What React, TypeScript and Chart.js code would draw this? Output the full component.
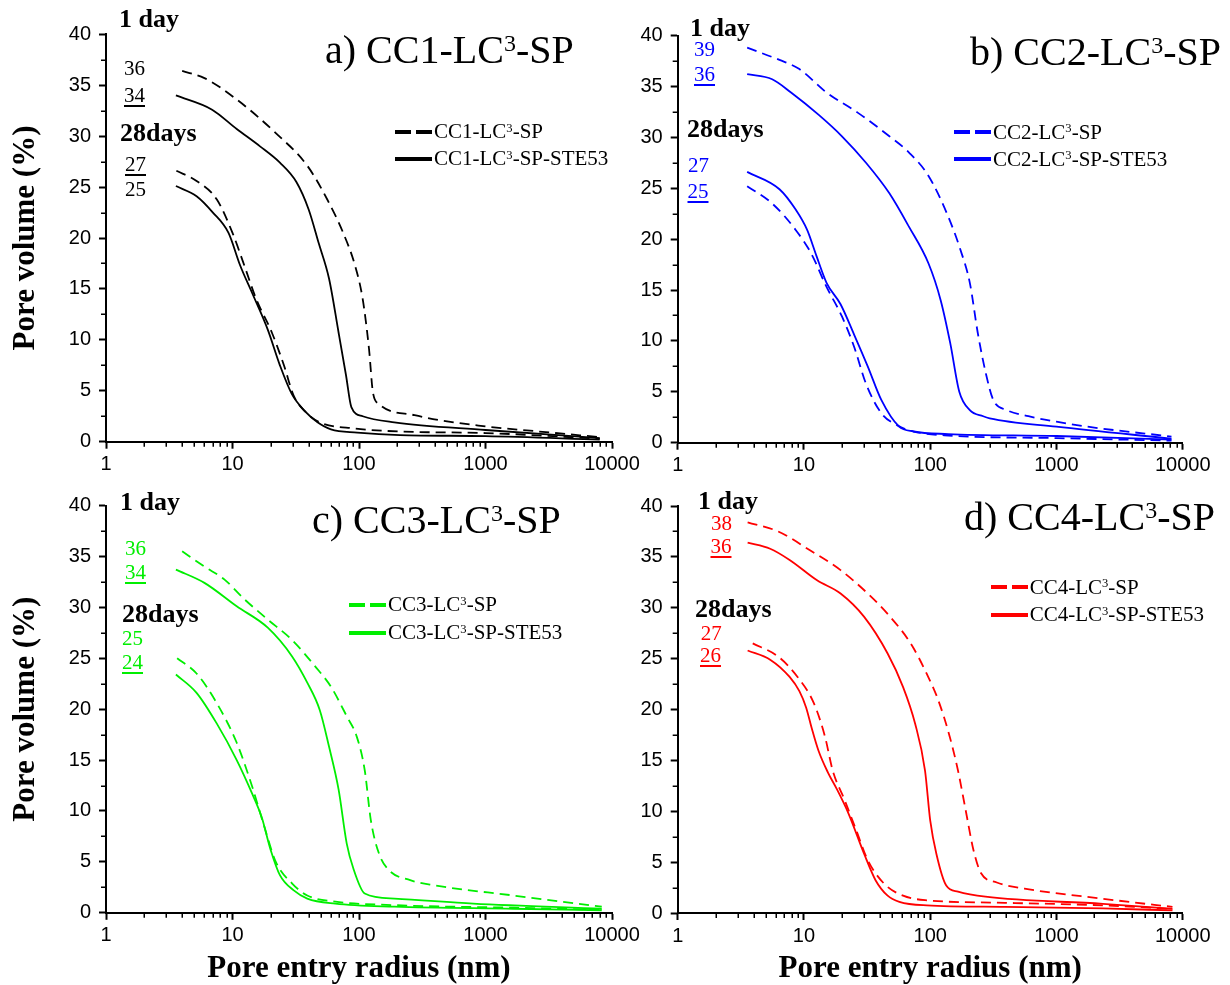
import React, { useEffect, useRef } from 'react';
import { Chart, registerables } from 'chart.js';

Chart.register(...registerables);

type Pt = [number, number];

// ---------- data: [pore entry radius (nm), pore volume (%)] ----------
// a) CC1
const a1dSP: Pt[] = [[4.0, 36.4], [6.0, 35.7], [10.8, 33.6], [22, 30.3], [39, 27.1], [56, 23.8], [75, 20.5], [93, 17.3], [107, 14], [120, 9.1], [129, 4.8], [144, 3.7], [275, 2.6], [1000, 1.5], [2400, 1.05], [8000, 0.45]];
const a1dSTE: Pt[] = [[3.57, 34.0], [6.9, 32.6], [10.8, 30.7], [16.5, 29.0], [23.7, 27.4], [32, 25.5], [40, 22.8], [48, 19.5], [58, 16.0], [69, 10.7], [79, 6.5], [87, 3.4], [107, 2.5], [190, 1.9], [1000, 1.15], [8000, 0.35]];
const a28SP: Pt[] = [[3.6, 26.6], [5.2, 25.6], [7.5, 23.8], [10, 20.5], [12.4, 17.3], [15.4, 14], [20.5, 10.7], [25.5, 7.5], [30.5, 4.5], [38, 2.9], [49, 1.9], [93, 1.3], [210, 1.0], [1000, 0.85], [8000, 0.3]];
const a28STE: Pt[] = [[3.57, 25.1], [5.2, 24.1], [7, 22.5], [9.3, 20.5], [11.5, 17.3], [14.3, 14.6], [19, 11], [23.7, 7.5], [29.4, 4.7], [38, 2.9], [47, 1.9], [60, 1.2], [97, 0.9], [210, 0.65], [1000, 0.55], [8000, 0.2]];
// b) CC2
const b1dSP: Pt[] = [[3.55, 38.8], [6.4, 37.6], [9.2, 36.7], [15.1, 34.4], [26.8, 32.4], [47.5, 30.1], [68, 28.5], [97, 26.2], [139, 22.2], [173, 19.0], [206, 15.7], [238, 10.8], [276, 6.8], [316, 4.2], [406, 3.2], [600, 2.6], [1000, 2.06], [1700, 1.6], [8150, 0.6]];
const b1dSTE: Pt[] = [[3.55, 36.2], [5.6, 35.7], [7.9, 34.4], [13.1, 32.2], [20, 30.1], [31, 27.5], [47.5, 24.5], [68, 21.2], [97, 17.6], [121, 14], [144, 9.8], [170, 5.0], [206, 3.2], [263, 2.6], [296, 2.4], [1000, 1.57], [8150, 0.4]];
const b28SP: Pt[] = [[3.55, 25.2], [5.6, 23.5], [8.6, 20.9], [11.4, 18.6], [15.1, 15.3], [20, 12.4], [25, 9.4], [31, 5.8], [41, 2.9], [55, 1.7], [74, 1.1], [139, 0.7], [1000, 0.45], [8150, 0.2]];
const b28STE: Pt[] = [[3.55, 26.6], [6.4, 24.9], [8.6, 22.9], [10.6, 20.9], [12.6, 18.3], [15.1, 15.7], [19.5, 13.6], [25, 10.6], [32, 7.5], [41, 4.2], [56.5, 1.6], [74, 1.1], [139, 0.85], [1000, 0.66], [8150, 0.3]];
// c) CC3
const c1dSP: Pt[] = [[4.0, 35.5], [6.0, 34.0], [8.7, 32.7], [12.4, 30.8], [19, 28.8], [29.5, 26.8], [45, 24.2], [60, 22.2], [80, 19.3], [96, 17.3], [111, 14], [124, 9.1], [144, 5.8], [172, 4.2], [254, 3.2], [393, 2.7], [1660, 1.7], [8300, 0.6]];
const c1dSTE: Pt[] = [[3.57, 33.7], [6, 32.4], [10.8, 30.1], [19, 28.0], [29.5, 25.2], [39, 22.6], [49, 19.9], [58, 16.3], [69, 12.1], [80, 6.8], [90, 4.4], [111, 1.9], [191, 1.4], [800, 0.9], [8300, 0.4]];
const c28SP: Pt[] = [[3.65, 25.0], [5.2, 23.5], [7.5, 20.6], [10.8, 16.7], [14.3, 12.4], [17.8, 8.5], [22, 5.0], [29.5, 2.9], [39, 1.7], [65, 1.1], [191, 0.75], [1660, 0.5], [8300, 0.3]];
const c28STE: Pt[] = [[3.57, 23.4], [5.2, 21.6], [7.5, 18.6], [10.8, 15.0], [14.3, 11.7], [17, 9.4], [20, 6.2], [23.7, 3.7], [30.5, 2.2], [39, 1.4], [65, 0.9], [191, 0.6], [1660, 0.4], [8300, 0.25]];
// d) CC4
const d1dSP: Pt[] = [[3.58, 38.4], [6.25, 37.5], [11, 35.7], [19.5, 33.7], [32, 31.4], [46, 29.4], [70, 26.5], [94, 23.5], [116, 20.9], [143, 17.3], [166, 14], [191, 10.1], [220, 6.2], [253, 3.9], [337, 3.0], [558, 2.4], [2330, 1.4], [8300, 0.6]];
const d1dSTE: Pt[] = [[3.58, 36.4], [5.4, 35.8], [7.7, 34.7], [12.7, 32.7], [19.5, 31.4], [30, 29.1], [46, 25.5], [61, 22.2], [76, 18.6], [91, 14], [100, 9.1], [112, 5.8], [134, 2.7], [166, 2.1], [274, 1.6], [2330, 0.9], [8300, 0.4]];
const d28SP: Pt[] = [[3.93, 26.5], [6.25, 25.2], [8.9, 23.2], [12, 20.6], [14.7, 17.3], [16.9, 14], [21, 11.1], [26, 8.1], [32, 5.2], [43, 2.9], [61, 1.7], [94, 1.25], [390, 1.0], [2330, 0.75], [8300, 0.4]];
const d28STE: Pt[] = [[3.58, 25.8], [5.4, 24.9], [7.7, 23.2], [9.2, 21.8], [10.4, 20.2], [11.5, 18.2], [13, 16.0], [15.5, 13.8], [18, 12.3], [22.5, 9.8], [30, 5.8], [37, 3.2], [46, 1.7], [57, 1.1], [94, 0.75], [390, 0.6], [2330, 0.45], [8300, 0.25]];

const X_TICKS = [1, 10, 100, 1000, 10000];
const Y_MIN = 0;
const Y_MAX = 40;
const Y_STEP = 5;
const X_TITLE = 'Pore entry radius (nm)';
const Y_TITLE = 'Pore volume (%)';

const W = 1230;
const H = 985;
const SERIF = '"Liberation Serif", "Times New Roman", Times, serif';
const SANS = '"Liberation Sans", Arial, Helvetica, sans-serif';

const minorTicks = {
  id: 'minorTicks',
  afterDraw(chart: any) {
    const { ctx, chartArea } = chart;
    const xs = chart.scales.x;
    const ys = chart.scales.y;
    ctx.save();
    ctx.strokeStyle = '#000';
    ctx.lineWidth = 1.5;
    ctx.beginPath();
    for (let k = 0; k < 4; k++) {
      for (let m = 2; m <= 9; m++) {
        const px = Math.round(xs.getPixelForValue(m * Math.pow(10, k))) + 0.25;
        ctx.moveTo(px, chartArea.bottom);
        ctx.lineTo(px, chartArea.bottom + 5);
      }
    }
    for (let v = Y_MIN + Y_STEP / 2; v < Y_MAX; v += Y_STEP) {
      const py = Math.round(ys.getPixelForValue(v)) + 0.25;
      ctx.moveTo(chartArea.left - 5, py);
      ctx.lineTo(chartArea.left, py);
    }
    ctx.stroke();
    ctx.restore();
  },
};

interface Series { data: Pt[]; dashed: boolean }
interface Area { left: number; right: number; top: number; bottom: number }
interface PanelProps { color: string; series: Series[]; area: Area; yTitle: boolean; xTitle: boolean }

function Panel({ color, series, area, yTitle, xTitle }: PanelProps) {
  const ref = useRef<HTMLCanvasElement | null>(null);
  useEffect(() => {
    if (!ref.current) return;
    const yW = yTitle ? area.left - 10.5 : 60;
    const padL = area.left - yW;
    const xH = xTitle ? 983 - area.bottom : 40;
    const padB = H - area.bottom - xH;
    const chart = new Chart(ref.current, {
      type: 'line',
      data: {
        datasets: series.map((s) => ({
          data: s.data.map(([x, y]) => ({ x, y })),
          borderColor: color,
          borderWidth: 1.8,
          borderDash: s.dashed ? [10, 6] : [],
          pointRadius: 0,
          fill: false,
          cubicInterpolationMode: 'monotone' as const,
        })),
      },
      options: {
        responsive: false,
        animation: false,
        layout: { padding: { left: padL, right: W - area.right, top: area.top, bottom: padB } },
        plugins: { legend: { display: false }, tooltip: { enabled: false } },
        scales: {
          x: {
            type: 'logarithmic',
            min: X_TICKS[0],
            max: X_TICKS[X_TICKS.length - 1],
            afterBuildTicks: (s: any) => { s.ticks = X_TICKS.map((v) => ({ value: v })); },
            afterFit: (s: any) => { s.height = xH; },
            ticks: {
              autoSkip: false, maxRotation: 0, minRotation: 0, padding: 4, color: '#000',
              font: { family: SANS, size: 20 },
              callback: (v: any) => String(v),
            },
            grid: { display: true, drawOnChartArea: false, drawTicks: true, tickLength: 7, tickWidth: 2, tickColor: '#000' },
            border: { display: true, color: '#000', width: 2 },
            title: { display: xTitle, text: X_TITLE, color: '#000', padding: 0, font: { family: SERIF, size: 31, weight: 'bold', lineHeight: 0.9 } },
          },
          y: {
            type: 'linear',
            min: Y_MIN,
            max: Y_MAX,
            afterFit: (s: any) => { s.width = yW; },
            ticks: { stepSize: Y_STEP, padding: 8, color: '#000', font: { family: SANS, size: 20 } },
            grid: { display: true, drawOnChartArea: false, drawTicks: true, tickLength: 7, tickWidth: 2, tickColor: '#000' },
            border: { display: true, color: '#000', width: 2 },
            title: { display: yTitle, text: Y_TITLE, color: '#000', padding: 0, font: { family: SERIF, size: 31, weight: 'bold', lineHeight: 1 } },
          },
        },
      } as any,
      plugins: [minorTicks],
    });
    return () => chart.destroy();
  }, []);
  return <canvas ref={ref} width={W} height={H} style={{ position: 'absolute', left: 0, top: 0, width: W, height: H }} />;
}

// text placed by left x and baseline y
function Txt({ x, y, size, bold, color, underline, children }: any) {
  return (
    <div
      style={{
        position: 'absolute', left: x, top: y - 0.8375 * size, fontFamily: SERIF, fontSize: size, lineHeight: 1,
        fontWeight: bold ? 700 : 400, color: color || '#000', whiteSpace: 'nowrap',
        textDecoration: underline ? 'underline' : 'none', textDecorationThickness: '2px', textUnderlineOffset: '3px',
      }}
    >
      {children}
    </div>
  );
}

function Sup({ children }: any) {
  return <span style={{ fontSize: '0.6em', position: 'relative', top: '-0.5em' }}>{children}</span>;
}

function Name({ cc, ste }: { cc: string; ste?: boolean }) {
  return <>{cc}-LC<Sup>3</Sup>-SP{ste ? '-STE53' : ''}</>;
}

function LegendRows({ x, y1, y2, color, cc }: any) {
  const seg = (l: number, w: number, y: number) => (
    <div style={{ position: 'absolute', left: l, top: y - 2, width: w, height: 4, background: color }} />
  );
  return (
    <>
      {seg(x, 16, y1)}
      {seg(x + 21, 16, y1)}
      {seg(x, 37, y2)}
      <Txt x={x + 39} y={y1 + 7} size={21} color="#000"><Name cc={cc} /></Txt>
      <Txt x={x + 39} y={y2 + 7} size={21} color="#000"><Name cc={cc} ste /></Txt>
    </>
  );
}

export default function App() {
  const K = '#000000';
  const B = '#0000ff';
  const G = '#00ee00';
  const R = '#ff0000';
  return (
    <div style={{ position: 'fixed', left: 0, top: 0, width: W, height: H, overflow: 'hidden', background: '#fff' }}>
      <Panel color={K} yTitle xTitle={false} area={{ left: 106, right: 612, top: 34.3, bottom: 441.7 }}
        series={[{ data: a1dSP, dashed: true }, { data: a1dSTE, dashed: false }, { data: a28SP, dashed: true }, { data: a28STE, dashed: false }]} />
      <Panel color={B} yTitle={false} xTitle={false} area={{ left: 677.7, right: 1182.7, top: 35.5, bottom: 442.7 }}
        series={[{ data: b1dSP, dashed: true }, { data: b1dSTE, dashed: false }, { data: b28SP, dashed: true }, { data: b28STE, dashed: false }]} />
      <Panel color={G} yTitle xTitle area={{ left: 106, right: 612, top: 505.5, bottom: 912.8 }}
        series={[{ data: c1dSP, dashed: true }, { data: c1dSTE, dashed: false }, { data: c28SP, dashed: true }, { data: c28STE, dashed: false }]} />
      <Panel color={R} yTitle={false} xTitle area={{ left: 677.7, right: 1182.7, top: 506, bottom: 913 }}
        series={[{ data: d1dSP, dashed: true }, { data: d1dSTE, dashed: false }, { data: d28SP, dashed: true }, { data: d28STE, dashed: false }]} />

      {/* panel a */}
      <Txt x={325} y={63.3} size={40}>a) <Name cc="CC1" /></Txt>
      <Txt x={119} y={28} size={26} bold>1 day</Txt>
      <Txt x={124} y={75.5} size={21} color={K}>36</Txt>
      <Txt x={124} y={103} size={21} color={K} underline>34</Txt>
      <Txt x={120} y={142} size={26} bold>28days</Txt>
      <Txt x={125} y={172} size={21} color={K} underline>27</Txt>
      <Txt x={125} y={197} size={21} color={K}>25</Txt>
      <LegendRows x={395} y1={132} y2={159} color={K} cc="CC1" />

      {/* panel b */}
      <Txt x={970} y={65} size={40}>b) <Name cc="CC2" /></Txt>
      <Txt x={690} y={36.7} size={26} bold>1 day</Txt>
      <Txt x={694} y={56.7} size={21} color={B}>39</Txt>
      <Txt x={694} y={81.7} size={21} color={B} underline>36</Txt>
      <Txt x={687} y={138} size={26} bold>28days</Txt>
      <Txt x={688} y={172.7} size={21} color={B}>27</Txt>
      <Txt x={687.5} y={199} size={21} color={B} underline>25</Txt>
      <LegendRows x={954} y1={132.3} y2={159.3} color={B} cc="CC2" />

      {/* panel c */}
      <Txt x={312} y={533.3} size={40}>c) <Name cc="CC3" /></Txt>
      <Txt x={120} y={510.7} size={26} bold>1 day</Txt>
      <Txt x={125} y={556} size={21} color={G}>36</Txt>
      <Txt x={125} y={579.3} size={21} color={G} underline>34</Txt>
      <Txt x={122} y={622.7} size={26} bold>28days</Txt>
      <Txt x={122} y={646} size={21} color={G}>25</Txt>
      <Txt x={122} y={669.3} size={21} color={G} underline>24</Txt>
      <LegendRows x={349} y1={605} y2={632.7} color={G} cc="CC3" />

      {/* panel d */}
      <Txt x={964} y={530} size={40}>d) <Name cc="CC4" /></Txt>
      <Txt x={698} y={510} size={26} bold>1 day</Txt>
      <Txt x={711} y={531} size={21} color={R}>38</Txt>
      <Txt x={710.5} y={554} size={21} color={R} underline>36</Txt>
      <Txt x={695} y={617.7} size={26} bold>28days</Txt>
      <Txt x={700.8} y={640.7} size={21} color={R}>27</Txt>
      <Txt x={700} y={662.7} size={21} color={R} underline>26</Txt>
      <LegendRows x={990.7} y1={587.3} y2={615} color={R} cc="CC4" />
    </div>
  );
}
